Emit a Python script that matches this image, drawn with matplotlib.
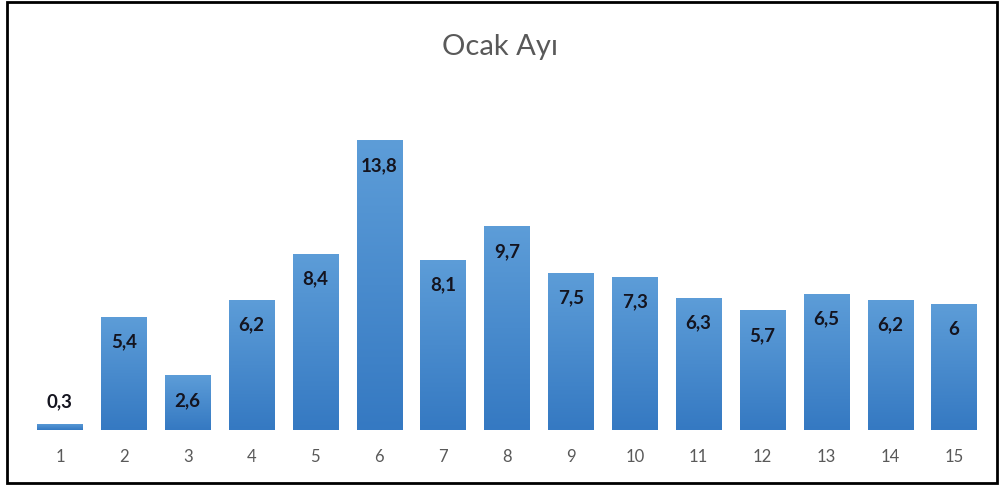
import numpy as np
import matplotlib.pyplot as plt
from matplotlib.patches import Rectangle
from matplotlib.colors import LinearSegmentedColormap

days = list(range(1, 16))
values = [0.3, 5.4, 2.6, 6.2, 8.4, 13.8, 8.1, 9.7, 7.5, 7.3, 6.3, 5.7, 6.5, 6.2, 6]
labels = ["0,3", "5,4", "2,6", "6,2", "8,4", "13,8", "8,1", "9,7", "7,5", "7,3",
          "6,3", "5,7", "6,5", "6,2", "6"]

plt.rcParams['font.family'] = ['Lato', 'DejaVu Sans']

fig = plt.figure(figsize=(10, 4.86), dpi=100)
ax = fig.add_axes([0.028, 0.1152, 0.958, 0.691])

bars = ax.bar(days, values, width=0.71, color='none', edgecolor='none')

# vertical gradient inside each bar
grad = np.linspace(0, 1, 256).reshape(-1, 1)
cmap = LinearSegmentedColormap.from_list("g", ["#3579c2", "#5d9dd8"])
for b in bars:
    x0, w, h = b.get_x(), b.get_width(), b.get_height()
    im = ax.imshow(grad, cmap=cmap, aspect='auto', origin='lower',
                   extent=[x0, x0 + w, 0, h], zorder=2)
    im.set_clip_path(b)
ax.set_xlim(0.5, 15.5)
ax.set_ylim(0, 16)

for d, v, lab in zip(days, values, labels):
    if v < 1:
        ax.annotate(lab, (d, v), xytext=(0, 10), textcoords='offset points',
                    ha='center', va='bottom', fontsize=13.5, fontweight='bold',
                    color='#14141f', zorder=3)
    else:
        ax.annotate(lab, (d, v), xytext=(0, -18), textcoords='offset points',
                    ha='center', va='center', fontsize=13.5, fontweight='bold',
                    color='#14141f', zorder=3)

ax.set_xticks(days)
ax.set_xticklabels([str(d) for d in days], color='#595959', fontsize=12)
ax.tick_params(axis='x', length=0, pad=14)
ax.set_yticks([])
for s in ax.spines.values():
    s.set_visible(False)

fig.text(0.5, 0.903, "Ocak Ayı", ha='center', va='center', fontsize=21, color='#595959')

fig.patches.append(Rectangle((0.007, 0.006), 0.99, 0.99, transform=fig.transFigure,
                             fill=False, edgecolor='black', linewidth=2))

fig.savefig("out.png", dpi=100)
